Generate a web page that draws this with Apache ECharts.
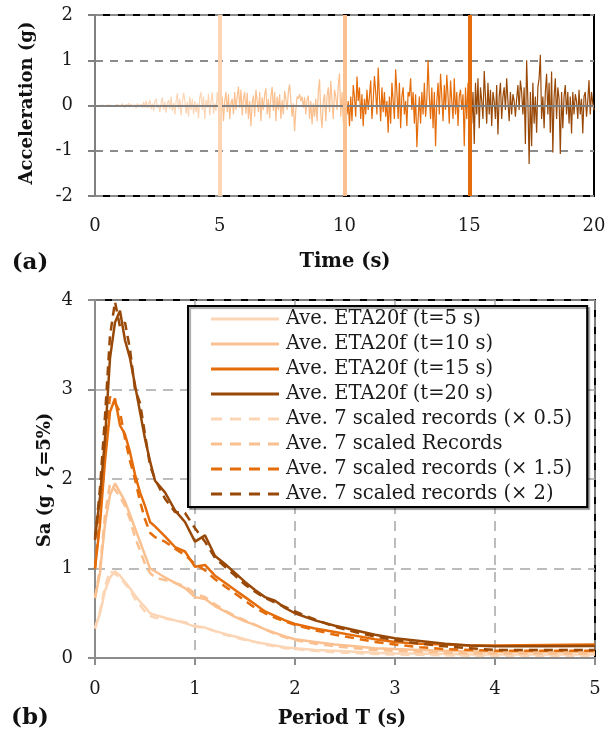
<!DOCTYPE html>
<html><head><meta charset="utf-8">
<script src="https://cdn.jsdelivr.net/npm/echarts@6/dist/echarts.min.js"></script>
<style>html,body{margin:0;padding:0;background:#fff}#c{width:615px;height:733px}</style>
</head><body><div id="c"></div>
<script>
// ---- Panel (a): acceleration time history (g), sampled every 0.05 s from 0 to 20 s
const timeStep = 0.05;
const segmentBounds = [0, 5, 10, 15, 20];
const acceleration = [
0,0.01,-0.01,0.02,0,-0.01,0.01,0.02,-0.01,0,0.01,-0.02,0.01,0.02,-0.01,0.01,0,-0.02,0.02,0.01,-0.01,
-0.03,0.04,0.02,-0.05,0.03,-0.02,0.05,-0.04,0.03,0.06,-0.03,0.02,-0.06,0.04,0.07,-0.02,0.03,-0.05,0.08,-0.04,
0.1,-0.06,0.05,0.12,-0.08,0.04,-0.12,0.09,0.15,-0.05,0.02,-0.14,0.06,0.18,-0.1,0.08,-0.16,0.05,0.12,-0.08,
0.2,-0.12,0.06,-0.2,0.1,0.27,-0.08,0.15,-0.22,0.05,0.28,0.12,-0.18,0.08,-0.25,0.2,-0.1,0.15,-0.2,0.1,
-0.15,0.05,-0.28,0.18,0.3,-0.1,0.2,-0.3,0.12,-0.05,0.26,-0.22,0.1,0.29,-0.18,0.05,-0.12,0.3,-0.06,0.15,
-0.25,0.2,-0.35,0.1,0.3,-0.15,0.25,-0.3,0.05,0.15,-0.2,0.3,-0.1,0.2,0.42,-0.05,0.35,-0.22,0.15,0.3,
-0.18,0.28,-0.3,0.1,-0.46,0.05,0.22,-0.25,0.35,0.1,-0.15,0.3,-0.35,0.18,-0.1,0.25,0.38,-0.2,0.15,-0.28,
0.2,0.41,-0.12,0.3,-0.35,0.2,-0.1,0.25,-0.3,0.12,-0.2,0.32,0.15,-0.1,0.3,0.47,0.1,-0.25,0.05,-0.57,
-0.1,0.2,0.15,0.25,0.1,0.2,-0.05,0.18,-0.2,0.12,0.22,-0.3,0.1,-0.42,0.05,-0.25,0.15,-0.35,0.3,0.58,
-0.2,-0.5,0.1,0.25,-0.35,0.2,0.4,-0.15,0.54,0.1,-0.3,0.35,0.2,-0.1,0.45,0.71,-0.25,0.3,-0.38,0.15,
0.3,-0.2,0.1,-0.46,0.2,-0.35,0.45,0.2,-0.25,0.64,0.1,0.4,-0.3,0.25,-0.46,0.15,-0.2,0.35,-0.1,0.2,
0.55,-0.3,0.1,0.65,0.3,-0.2,0.84,0.2,-0.35,0.4,-0.15,0.3,-0.25,0.1,-0.6,0.2,-0.4,0.5,0.1,-0.3,
0.8,0.3,-0.3,0.5,-0.5,0.2,0.4,-0.2,0.1,-0.45,0.3,0.2,0.6,-0.1,0.3,-0.4,0.25,-0.92,-0.3,0.2,
-0.4,0.3,-0.2,0.5,-0.25,0.15,1.0,0.2,-0.3,0.4,-0.5,0.3,-0.9,0.1,0.5,-0.2,0.7,0.2,-0.35,0.45,
-0.1,0.68,0.2,-0.4,0.55,0.1,-0.3,0.6,-0.2,0.3,-0.45,0.2,0.35,-0.1,0.25,-0.9,0.4,-0.3,0.5,-0.2,
0.76,-0.4,0.3,-0.85,0.5,-0.2,0.6,-0.5,0.4,0.1,-0.3,0.76,0.2,-0.4,0.5,-0.2,0.35,-0.45,0.3,0.1,
-0.3,0.45,-0.64,0.2,0.5,-0.3,0.2,0.4,-0.1,0.6,0.1,-0.35,0.3,-0.2,0.25,0.1,-0.25,0.15,0.45,-0.1,
0.55,0.3,-0.2,0.4,-0.85,1.0,0.1,-1.29,0.3,-0.9,0.5,-0.4,0.2,-0.6,0.4,0.6,1.12,-0.3,0.2,-0.5,
0.3,0.7,-0.2,0.5,-0.6,0.75,-1.04,0.2,0.6,-0.3,0.4,0.15,-1.07,0.3,-0.5,0.2,0.45,-0.2,0.3,-0.4,
0.2,-0.62,0.3,-0.2,0.25,0.1,-0.3,0.35,-0.2,0.15,-0.62,0.2,0.3,-0.25,0.1,0.56,-0.2,0.3,0.05,-0.1
];
const timeTicks = [0, 5, 10, 15, 20];
const accTicks = [-2, -1, 0, 1, 2];

// ---- Panel (b): spectra (Sa, g)
const periods = [0,0.05,0.1,0.15,0.2,0.25,0.3,0.35,0.4,0.45,0.5,0.55,0.6,0.7,0.8,0.9,1.0,1.1,1.2,1.3,1.4,1.5,1.6,1.7,1.8,1.9,2.0,2.2,2.4,2.6,2.8,3.0,3.25,3.5,3.75,4.0,4.5,5.0];
const eta5  = [0.33,0.5,0.75,0.9,0.97,0.92,0.85,0.78,0.7,0.63,0.57,0.5,0.48,0.45,0.42,0.39,0.35,0.34,0.3,0.27,0.24,0.21,0.18,0.16,0.14,0.12,0.11,0.09,0.08,0.07,0.06,0.05,0.05,0.045,0.04,0.04,0.04,0.04];
const eta10 = [0.67,0.95,1.5,1.82,1.95,1.85,1.75,1.6,1.45,1.3,1.15,1.0,0.97,0.9,0.84,0.78,0.68,0.66,0.58,0.52,0.46,0.41,0.37,0.32,0.28,0.24,0.21,0.18,0.15,0.13,0.11,0.1,0.09,0.08,0.075,0.07,0.07,0.07];
const eta15 = [1.0,1.5,2.2,2.75,2.9,2.6,2.5,2.3,2.05,1.85,1.7,1.52,1.47,1.36,1.24,1.19,1.02,1.04,0.92,0.84,0.76,0.68,0.6,0.52,0.47,0.42,0.38,0.33,0.29,0.25,0.21,0.18,0.16,0.15,0.14,0.14,0.145,0.15];
const eta20 = [1.34,1.8,2.45,3.35,3.75,3.88,3.55,3.35,3.05,2.75,2.45,2.2,1.98,1.85,1.65,1.52,1.3,1.37,1.14,1.05,0.95,0.85,0.76,0.68,0.64,0.56,0.5,0.42,0.36,0.31,0.26,0.22,0.19,0.16,0.14,0.13,0.13,0.135];
const rec05 = [0.33,0.52,0.8,0.97,0.94,0.9,0.83,0.76,0.66,0.59,0.52,0.47,0.45,0.44,0.42,0.4,0.36,0.34,0.3,0.26,0.23,0.2,0.18,0.15,0.13,0.11,0.1,0.08,0.065,0.055,0.045,0.04,0.035,0.03,0.025,0.025,0.025,0.025];
const rec10 = [0.67,1.0,1.6,1.95,1.88,1.8,1.7,1.55,1.35,1.2,1.05,0.95,0.9,0.87,0.84,0.8,0.72,0.68,0.6,0.53,0.47,0.42,0.37,0.32,0.27,0.23,0.2,0.16,0.13,0.11,0.09,0.08,0.07,0.06,0.05,0.05,0.05,0.05];
const rec15 = [1.0,1.6,2.4,2.92,2.85,2.75,2.45,2.2,2.0,1.75,1.55,1.4,1.35,1.3,1.22,1.15,1.05,0.98,0.88,0.8,0.72,0.64,0.56,0.5,0.45,0.41,0.37,0.31,0.26,0.22,0.18,0.15,0.12,0.1,0.09,0.08,0.08,0.08];
const rec20 = [1.32,1.9,2.7,3.6,3.98,3.7,3.75,3.45,3.0,2.85,2.5,2.15,2.0,1.78,1.63,1.62,1.45,1.3,1.12,1.02,0.92,0.82,0.74,0.67,0.62,0.57,0.52,0.43,0.35,0.29,0.24,0.2,0.16,0.13,0.11,0.09,0.09,0.09];
const periodTicks = [0,1,2,3,4,5];
const saTicks = [0,1,2,3,4];

const seriesNames = ['Ave. ETA20f (t=5 s)','Ave. ETA20f (t=10 s)','Ave. ETA20f (t=15 s)','Ave. ETA20f (t=20 s)',
  'Ave. 7 scaled records (× 0.5)','Ave. 7 scaled Records','Ave. 7 scaled records (× 1.5)','Ave. 7 scaled records (× 2)'];
const colors = ['#FCD5B5','#FAC090','#E46C0A','#984807'];

const FONT = 'DejaVu Serif';
const chart = echarts.init(document.getElementById('c'), null, {renderer:'canvas'});

function segData(k){
  const i0 = Math.round(segmentBounds[k]/timeStep), i1 = Math.round(segmentBounds[k+1]/timeStep);
  const out = [];
  for (let i=i0;i<=i1 && i<acceleration.length;i++) out.push([+(i*timeStep).toFixed(2), acceleration[i]]);
  return out;
}
function spec(v){ return periods.map((p,i)=>[p, v[i]]); }

const ICON_SOLID = 'path://M0,0h68v3h-68z';
const ICON_DASH = 'path://M0,0h11v3h-11zM19,0h11v3h-11zM38,0h11v3h-11zM57,0h11v3h-11z';

const axisLbl = {fontFamily: FONT, fontSize: 18, color: '#1a1a1a'};
const series = [];
series.push({type:'line', xAxisIndex:0, yAxisIndex:0, data:[], silent:true, z:1,
  markLine:{silent:true, symbol:'none', label:{show:false}, lineStyle:{color:'#808080', type:'solid', width:2},
    data:[{yAxis:0}]}});
for (let k=0;k<4;k++){
  series.push({type:'line', xAxisIndex:0, yAxisIndex:0, data:segData(k), showSymbol:false, symbol:'none',
    lineStyle:{color:colors[k], width:1.2}, z:2, silent:true});
}
series.push({type:'line', xAxisIndex:0, yAxisIndex:0, data:[], silent:true, z:5,
  markLine:{silent:true, symbol:'none', label:{show:false},
    data:[{xAxis:5, lineStyle:{color:colors[0], width:4, type:'solid'}},
          {xAxis:10, lineStyle:{color:colors[1], width:4, type:'solid'}},
          {xAxis:15, lineStyle:{color:colors[2], width:4, type:'solid'}}]}});

const solid = [eta5, eta10, eta15, eta20], dashed = [rec05, rec10, rec15, rec20];
for (let k=0;k<4;k++){
  series.push({name:seriesNames[k], type:'line', xAxisIndex:1, yAxisIndex:1, data:spec(solid[k]),
    symbol:'none', showSymbol:false, color:colors[k], lineStyle:{color:colors[k], width:2.5, type:'solid'}, z:3+k});
}
for (let k=0;k<4;k++){
  series.push({name:seriesNames[4+k], type:'line', xAxisIndex:1, yAxisIndex:1, data:spec(dashed[k]),
    symbol:'none', showSymbol:false, color:colors[k], lineStyle:{color:colors[k], width:2.5, type:[9,6]}, z:3+k});
}

const legendData = seriesNames.map((n,i)=>({name:n, icon: i<4 ? ICON_SOLID : ICON_DASH,
  itemStyle:{color:colors[i%4], borderWidth:0}}));

const option = {
  animation:false,
  backgroundColor:'#fff',
  grid:[
    {left:95, top:15, width:499, height:181, show:true, borderColor:'#000', borderWidth:2},
    {left:95, top:300, width:500, height:358, show:true, borderColor:'#000', borderWidth:2}
  ],
  xAxis:[
    {type:'value', gridIndex:0, min:0, max:20, interval:5,
      axisLine:{show:false, onZero:false}, axisTick:{show:false},
      axisLabel:{...axisLbl, margin:21, formatter:v=>timeTicks.includes(v)?String(v):''},
      splitLine:{show:false}},
    {type:'value', gridIndex:1, min:0, max:5, interval:1,
      axisLine:{show:true, onZero:false, lineStyle:{color:'#8c8c8c', width:2}},
      axisTick:{show:true, inside:false, length:7, lineStyle:{color:'#8c8c8c', width:2}},
      axisLabel:{...axisLbl, margin:22, formatter:v=>periodTicks.includes(v)?String(v):''},
      splitLine:{show:true, lineStyle:{color:'#a6a6a6', width:1.5, type:[10,7]}}}
  ],
  yAxis:[
    {type:'value', gridIndex:0, min:-2, max:2, interval:1,
      axisLine:{show:true, onZero:false, lineStyle:{color:'#808080', width:2}},
      axisTick:{show:true, inside:false, length:7, lineStyle:{color:'#808080', width:2}},
      axisLabel:{...axisLbl, margin:22, formatter:v=>accTicks.includes(v)?String(v):''},
      splitLine:{show:true, lineStyle:{color:'#8c8c8c', width:2, type:[8,7]}}},
    {type:'value', gridIndex:1, min:0, max:4, interval:1,
      axisLine:{show:true, onZero:false, lineStyle:{color:'#8c8c8c', width:2}},
      axisTick:{show:true, inside:false, length:7, lineStyle:{color:'#8c8c8c', width:2}},
      axisLabel:{...axisLbl, margin:22, formatter:v=>saTicks.includes(v)?String(v):''},
      splitLine:{show:true, lineStyle:{color:'#a6a6a6', width:1.5, type:[10,7]}}}
  ],
  legend:{
    data:legendData, orient:'vertical', left:188, top:306,
    itemWidth:68, itemHeight:3, itemGap:5,
    padding:[3,15,3,23],
    backgroundColor:'#fff', borderColor:'#000', borderWidth:2,
    shadowColor:'rgba(0,0,0,0.35)', shadowOffsetX:2, shadowOffsetY:2, shadowBlur:1,
    textStyle:{fontFamily:FONT, fontSize:19.5, color:'#1a1a1a', lineHeight:20, padding:[0,0,0,2]},
    selectedMode:false
  },
  graphic:[
    {type:'text', x:27, y:103, rotation:Math.PI/2, style:{text:'Acceleration (g)', font:'bold 18px '+FONT, fill:'#111', textAlign:'center', textVerticalAlign:'middle'}},
    {type:'text', x:345, y:262, style:{text:'Time (s)', font:'bold 19.5px '+FONT, fill:'#111', textAlign:'center', textVerticalAlign:'middle'}},
    {type:'text', x:30, y:263, style:{text:'(a)', font:'bold 23px '+FONT, fill:'#111', textAlign:'center', textVerticalAlign:'middle'}},
    {type:'text', x:45, y:480, rotation:Math.PI/2, style:{text:'Sa (g , ζ=5%)', font:'bold 18px '+FONT, fill:'#111', textAlign:'center', textVerticalAlign:'middle'}},
    {type:'text', x:342, y:719, style:{text:'Period T (s)', font:'bold 19.5px '+FONT, fill:'#111', textAlign:'center', textVerticalAlign:'middle'}},
    {type:'text', x:30, y:718, style:{text:'(b)', font:'bold 23px '+FONT, fill:'#111', textAlign:'center', textVerticalAlign:'middle'}}
  ],
  series: series
};
chart.setOption(option);
</script></body></html>
